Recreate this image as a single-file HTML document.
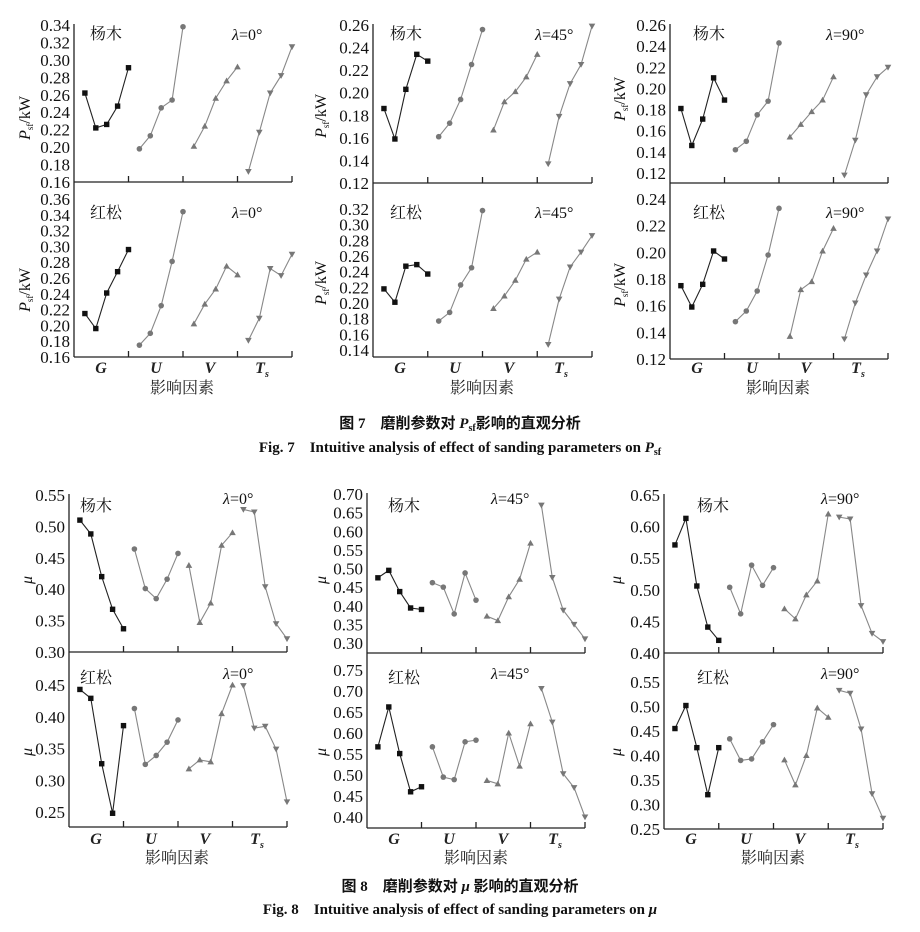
<!DOCTYPE html>
<html><head><meta charset="utf-8">
<style>
body{margin:0;background:#fff;}
svg{display:block;font-family:"Liberation Serif","Noto Serif CJK SC",serif;}
.t{font-size:17px;fill:#111;text-anchor:end;}
.t text{transform:translateY(1px);}
.c{font-family:"Liberation Serif","Noto Serif CJK SC",serif;font-size:16px;fill:#111;}
.g{font-size:16px;font-style:italic;font-weight:bold;fill:#222;text-anchor:middle;}
.x{font-size:16px;fill:#222;text-anchor:middle;}
.cap{font-size:15px;font-weight:bold;fill:#111;text-anchor:middle;}
</style></head><body>
<svg id="s" width="920" height="932" viewBox="0 0 920 932" xmlns="http://www.w3.org/2000/svg">
<g stroke="#222" stroke-width="1.3" fill="none" id="axes"></g>
<g id="data"></g>
<g class="t">
<text x="70" y="187">0.16</text><text x="70" y="169.6">0.18</text><text x="70" y="152.1">0.20</text><text x="70" y="134.7">0.22</text><text x="70" y="117.2">0.24</text><text x="70" y="99.8">0.26</text><text x="70" y="82.3">0.28</text><text x="70" y="64.9">0.30</text><text x="70" y="47.4">0.32</text><text x="70" y="30">0.34</text>
<text x="70" y="362">0.16</text><text x="70" y="346.2">0.18</text><text x="70" y="330.4">0.20</text><text x="70" y="314.6">0.22</text><text x="70" y="298.8">0.24</text><text x="70" y="283">0.26</text><text x="70" y="267.2">0.28</text><text x="70" y="251.4">0.30</text><text x="70" y="235.6">0.32</text><text x="70" y="219.8">0.34</text><text x="70" y="204">0.36</text>
<text x="369" y="188">0.12</text><text x="369" y="165.4">0.14</text><text x="369" y="142.9">0.16</text><text x="369" y="120.3">0.18</text><text x="369" y="97.7">0.20</text><text x="369" y="75.1">0.22</text><text x="369" y="52.6">0.24</text><text x="369" y="30">0.26</text>
<text x="369" y="355">0.14</text><text x="369" y="339.3">0.16</text><text x="369" y="323.7">0.18</text><text x="369" y="308">0.20</text><text x="369" y="292.3">0.22</text><text x="369" y="276.7">0.24</text><text x="369" y="261">0.26</text><text x="369" y="245.3">0.28</text><text x="369" y="229.7">0.30</text><text x="369" y="214">0.32</text>
<text x="666" y="178">0.12</text><text x="666" y="156.9">0.14</text><text x="666" y="135.7">0.16</text><text x="666" y="114.6">0.18</text><text x="666" y="93.4">0.20</text><text x="666" y="72.3">0.22</text><text x="666" y="51.1">0.24</text><text x="666" y="30">0.26</text>
<text x="666" y="364">0.12</text><text x="666" y="337.3">0.14</text><text x="666" y="310.7">0.16</text><text x="666" y="284">0.18</text><text x="666" y="257.3">0.20</text><text x="666" y="230.7">0.22</text><text x="666" y="204">0.24</text>
<text x="65" y="657">0.30</text><text x="65" y="625.6">0.35</text><text x="65" y="594.2">0.40</text><text x="65" y="562.8">0.45</text><text x="65" y="531.4">0.50</text><text x="65" y="500">0.55</text>
<text x="65" y="817">0.25</text><text x="65" y="785.3">0.30</text><text x="65" y="753.5">0.35</text><text x="65" y="721.8">0.40</text><text x="65" y="690">0.45</text>
<text x="363" y="648">0.30</text><text x="363" y="629.4">0.35</text><text x="363" y="610.8">0.40</text><text x="363" y="592.1">0.45</text><text x="363" y="573.5">0.50</text><text x="363" y="554.9">0.55</text><text x="363" y="536.3">0.60</text><text x="363" y="517.6">0.65</text><text x="363" y="499">0.70</text>
<text x="363" y="822">0.40</text><text x="363" y="801">0.45</text><text x="363" y="780">0.50</text><text x="363" y="759">0.55</text><text x="363" y="738">0.60</text><text x="363" y="717">0.65</text><text x="363" y="696">0.70</text><text x="363" y="675">0.75</text>
<text x="660" y="658">0.40</text><text x="660" y="626.4">0.45</text><text x="660" y="594.8">0.50</text><text x="660" y="563.2">0.55</text><text x="660" y="531.6">0.60</text><text x="660" y="500">0.65</text>
<text x="660" y="834">0.25</text><text x="660" y="809.5">0.30</text><text x="660" y="785">0.35</text><text x="660" y="760.5">0.40</text><text x="660" y="736">0.45</text><text x="660" y="711.5">0.50</text><text x="660" y="687">0.55</text>
</g>
<g class="c">
<text x="90" y="39">杨木</text><text x="232" y="40"><tspan font-style="italic">λ</tspan>=0°</text>
<text x="90" y="218">红松</text><text x="232" y="218"><tspan font-style="italic">λ</tspan>=0°</text>
<text x="390" y="39">杨木</text><text x="535" y="40"><tspan font-style="italic">λ</tspan>=45°</text>
<text x="390" y="218">红松</text><text x="535" y="218"><tspan font-style="italic">λ</tspan>=45°</text>
<text x="693" y="39">杨木</text><text x="826" y="40"><tspan font-style="italic">λ</tspan>=90°</text>
<text x="693" y="218">红松</text><text x="826" y="218"><tspan font-style="italic">λ</tspan>=90°</text>
<text x="80" y="511">杨木</text><text x="223" y="504"><tspan font-style="italic">λ</tspan>=0°</text>
<text x="80" y="683">红松</text><text x="223" y="679"><tspan font-style="italic">λ</tspan>=0°</text>
<text x="388" y="511">杨木</text><text x="491" y="504"><tspan font-style="italic">λ</tspan>=45°</text>
<text x="388" y="683">红松</text><text x="491" y="679"><tspan font-style="italic">λ</tspan>=45°</text>
<text x="697" y="511">杨木</text><text x="821" y="504"><tspan font-style="italic">λ</tspan>=90°</text>
<text x="697" y="683">红松</text><text x="821" y="679"><tspan font-style="italic">λ</tspan>=90°</text>
</g>
<g class="g">
<text x="101" y="373">G</text><text x="156" y="373">U</text><text x="210" y="373">V</text><text x="262" y="373">T<tspan font-size="10" dy="4">s</tspan></text>
<text x="400" y="373">G</text><text x="455" y="373">U</text><text x="509" y="373">V</text><text x="561" y="373">T<tspan font-size="10" dy="4">s</tspan></text>
<text x="697" y="373">G</text><text x="752" y="373">U</text><text x="806" y="373">V</text><text x="858" y="373">T<tspan font-size="10" dy="4">s</tspan></text>
<text x="96" y="844">G</text><text x="151" y="844">U</text><text x="205" y="844">V</text><text x="257" y="844">T<tspan font-size="10" dy="4">s</tspan></text>
<text x="394" y="844">G</text><text x="449" y="844">U</text><text x="503" y="844">V</text><text x="555" y="844">T<tspan font-size="10" dy="4">s</tspan></text>
<text x="691" y="844">G</text><text x="746" y="844">U</text><text x="800" y="844">V</text><text x="852" y="844">T<tspan font-size="10" dy="4">s</tspan></text>
</g>
<g class="x">
<text x="182" y="393">影响因素</text><text x="482" y="393">影响因素</text><text x="778" y="393">影响因素</text>
<text x="177" y="863">影响因素</text><text x="476" y="863">影响因素</text><text x="773" y="863">影响因素</text>
</g>
<g class="c" font-size="16">
<text transform="translate(30,118) rotate(-90)" text-anchor="middle"><tspan font-style="italic">P</tspan><tspan font-size="9" dy="3">sf</tspan><tspan dy="-3">/kW</tspan></text>
<text transform="translate(30,290) rotate(-90)" text-anchor="middle"><tspan font-style="italic">P</tspan><tspan font-size="9" dy="3">sf</tspan><tspan dy="-3">/kW</tspan></text>
<text transform="translate(326,116) rotate(-90)" text-anchor="middle"><tspan font-style="italic">P</tspan><tspan font-size="9" dy="3">sf</tspan><tspan dy="-3">/kW</tspan></text>
<text transform="translate(326,283) rotate(-90)" text-anchor="middle"><tspan font-style="italic">P</tspan><tspan font-size="9" dy="3">sf</tspan><tspan dy="-3">/kW</tspan></text>
<text transform="translate(625,99) rotate(-90)" text-anchor="middle"><tspan font-style="italic">P</tspan><tspan font-size="9" dy="3">sf</tspan><tspan dy="-3">/kW</tspan></text>
<text transform="translate(625,285) rotate(-90)" text-anchor="middle"><tspan font-style="italic">P</tspan><tspan font-size="9" dy="3">sf</tspan><tspan dy="-3">/kW</tspan></text>
<text transform="translate(32,580) rotate(-90)" text-anchor="middle" font-style="italic">μ</text>
<text transform="translate(32,752) rotate(-90)" text-anchor="middle" font-style="italic">μ</text>
<text transform="translate(326,580) rotate(-90)" text-anchor="middle" font-style="italic">μ</text>
<text transform="translate(326,752) rotate(-90)" text-anchor="middle" font-style="italic">μ</text>
<text transform="translate(621,580) rotate(-90)" text-anchor="middle" font-style="italic">μ</text>
<text transform="translate(621,752) rotate(-90)" text-anchor="middle" font-style="italic">μ</text>
</g>
<g class="cap">
<text x="460" y="428" style="font-family:'Liberation Serif','Noto Sans CJK SC',sans-serif">图 7　磨削参数对 <tspan font-style="italic">P</tspan><tspan font-size="10" dy="3">sf</tspan><tspan dy="-3">影响的直观分析</tspan></text>
<text x="460" y="452">Fig. 7　Intuitive analysis of effect of sanding parameters on <tspan font-style="italic">P</tspan><tspan font-size="10" dy="3">sf</tspan></text>
<text x="460" y="891" style="font-family:'Liberation Serif','Noto Sans CJK SC',sans-serif">图 8　磨削参数对 <tspan font-style="italic">μ</tspan> 影响的直观分析</text>
<text x="460" y="914">Fig. 8　Intuitive analysis of effect of sanding parameters on <tspan font-style="italic">μ</tspan></text>
</g>
</svg>
<script>
var NS="http://www.w3.org/2000/svg";
function el(t,a,p){var e=document.createElementNS(NS,t);for(var k in a)e.setAttribute(k,a[k]);p.appendChild(e);return e;}
var ax=document.getElementById('axes'),dg=document.getElementById('data');
var P=[
[74,292,24,182,357,[.34,25,.16,182],[.36,199,.16,357],
 [.262,.222,.226,.247,.291,.198,.213,.245,.254,.338,.201,.224,.256,.276,.292,.172,.217,.262,.282,.315],
 [.215,.196,.241,.268,.296,.175,.190,.225,.281,.344,.202,.227,.246,.275,.264,.181,.209,.272,.263,.290]],
[373,592,24,183,357,[.26,25,.12,183],[.32,209,.14,350],
 [.186,.159,.203,.234,.228,.161,.173,.194,.225,.256,.167,.192,.201,.214,.234,.137,.179,.208,.225,.259],
 [.218,.201,.247,.249,.237,.177,.188,.223,.245,.318,.193,.209,.229,.256,.265,.147,.205,.246,.265,.286]],
[670,888,24,183,359,[.26,25,.12,173],[.24,199,.12,359],
 [.181,.146,.171,.210,.189,.142,.150,.175,.188,.243,.154,.166,.178,.189,.211,.118,.151,.194,.211,.220],
 [.175,.159,.176,.201,.195,.148,.156,.171,.198,.233,.137,.172,.178,.201,.218,.135,.162,.183,.201,.225]],
[69,287,494,652,827,[.55,495,.30,652],[.45,685,.25,812],
 [.510,.488,.420,.368,.337,.464,.401,.385,.416,.457,.438,.347,.378,.470,.490,.527,.523,.404,.345,.321],
 [.443,.429,.326,.248,.386,.413,.325,.339,.360,.395,.318,.332,.329,.405,.450,.449,.382,.385,.349,.266]],
[367,585,493,653,828,[.70,494,.30,643],[.75,670,.40,817],
 [.475,.495,.438,.394,.390,.462,.450,.378,.488,.415,.372,.360,.424,.471,.568,.670,.476,.388,.350,.311],
 [.567,.662,.551,.460,.472,.567,.495,.489,.579,.583,.487,.479,.600,.521,.622,.706,.626,.503,.470,.400]],
[664,883,494,653,829,[.65,495,.40,653],[.55,682,.25,829],
 [.571,.613,.506,.441,.420,.504,.462,.539,.507,.535,.470,.454,.492,.514,.620,.615,.612,.475,.431,.418],
 [.455,.502,.416,.320,.416,.434,.390,.393,.428,.463,.391,.340,.400,.497,.478,.533,.527,.454,.322,.272]]
];
P.forEach(function(p){
 var x0=p[0],x1=p[1],yt=p[2],ym=p[3],yb=p[4],w=(x1-x0)/20;
 el('line',{x1:x0,y1:yt,x2:x0,y2:yb},ax);
 [ym,yb].forEach(function(y){el('line',{x1:x0,y1:y,x2:x1,y2:y},ax);
  for(var i=1;i<=4;i++){var xx=x0+i*w*5;el('line',{x1:xx,y1:y,x2:xx,y2:y-6},ax);}});
 [[p[5],p[7]],[p[6],p[8]]].forEach(function(q){
  var m=q[0],d=q[1];
  function Y(v){return m[1]+(v-m[0])*(m[3]-m[1])/(m[2]-m[0]);}
  for(var g=0;g<4;g++){
   var pts=[];for(var j=0;j<5;j++){var k=g*5+j;pts.push([x0+(k+1)*w,Y(d[k])]);}
   var col=g==0?'#111':'#777',lc=g==0?'#222':'#888';
   el('polyline',{points:pts.map(function(a){return a.join(',')}).join(' '),fill:'none',stroke:lc,'stroke-width':1.1},dg);
   pts.forEach(function(a){var x=a[0],y=a[1];
    if(g==0)el('rect',{x:x-2.7,y:y-2.7,width:5.4,height:5.4,fill:col},dg);
    else if(g==1)el('circle',{cx:x,cy:y,r:2.8,fill:col},dg);
    else if(g==2)el('polygon',{points:(x)+','+(y-3.3)+' '+(x-3.3)+','+(y+2.5)+' '+(x+3.3)+','+(y+2.5),fill:col},dg);
    else el('polygon',{points:(x)+','+(y+3.3)+' '+(x-3.3)+','+(y-2.5)+' '+(x+3.3)+','+(y-2.5),fill:col},dg);
   });
  }
 });
});
</script>
</body></html>
